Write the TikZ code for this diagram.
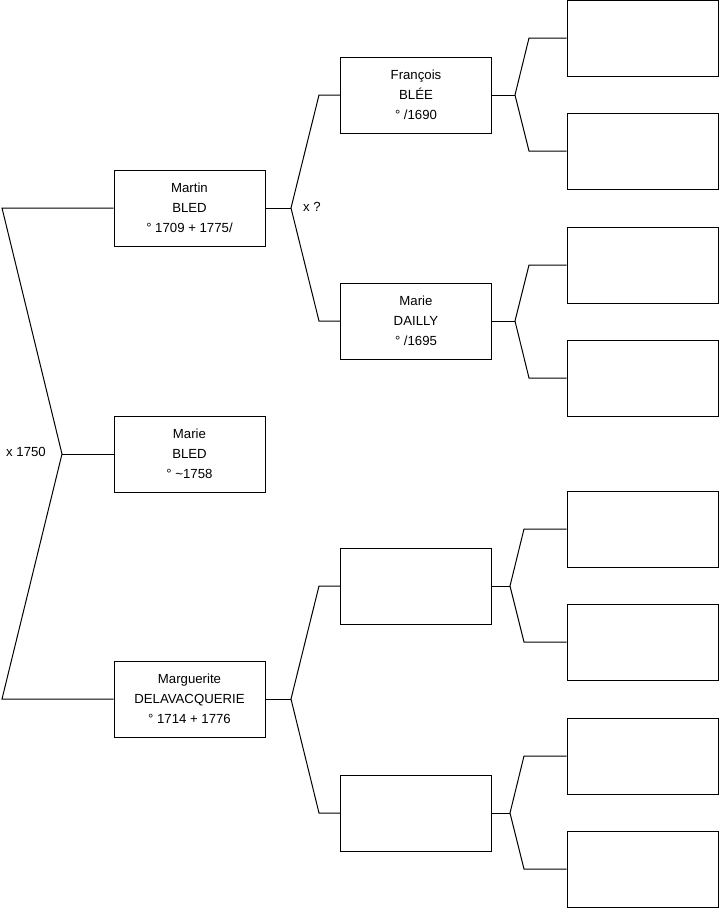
\documentclass[tikz,border=0pt]{standalone}
\usepackage{fontspec}
\setmainfont{Liberation Sans}
\usetikzlibrary{calc}

\begin{document}
\begin{tikzpicture}[x=0.75pt,y=-0.75pt,line width=0.75pt,
    every node/.style={font=\fontsize{9.9}{15}\selectfont},
    person/.style={draw,minimum width=113.25pt,minimum height=57pt,inner sep=0pt,align=center}]
    \useasboundingbox (0,0) rectangle (719,908);
    % generation 1
    \node[person] (martin) at (189.5,208) {Martin\\BLED\\° 1709 + 1775/};
    \node[person] (marie) at (189.5,454) {Marie\\BLED\\° \textasciitilde1758};
    \node[person] (marguerite) at (189.5,699) {Marguerite\\DELAVACQUERIE\\° 1714 + 1776};
    \coordinate (m1) at (62,454);
    \draw (martin.west) -- (2,208) -- (m1) -- (2,699) -- (marguerite.west);
    \draw (m1) -- (marie.west);
    \node at (26,452) {x 1750};
    % generation 2
    \node[person] (francois) at (416,95) {François\\BLÉE\\° /1690};
    \node[person] (dailly) at (416,321) {Marie\\DAILLY\\° /1695};
    \node[person] (p3) at (416,586) {};
    \node[person] (p4) at (416,813) {};
    \coordinate (m2) at (291,208);
    \coordinate (m3) at (291,699);
    \draw (martin.east) -- (m2);
    \draw (francois.west) -- (319,95) -- (m2) -- (319,321) -- (dailly.west);
    \node at (312,207) {x ?};
    \draw (marguerite.east) -- (m3);
    \draw (p3.west) -- (319,586) -- (m3) -- (319,813) -- (p4.west);
    % generation 3
    \foreach \y/\a/\b in {38/g1/g2,265/g3/g4,529/g5/g6,756/g7/g8}{
      \node[person] (\a) at (642.5,\y) {};
      \node[person] (\b) at (642.5,\y+113) {};
    }
    \coordinate (m4) at (515,95);
    \coordinate (m5) at (515,321);
    \coordinate (m6) at (510,586);
    \coordinate (m7) at (510,813);
    \draw (francois.east) -- (m4);
    \draw (g1.west) -- (529,38) -- (m4) -- (529,151) -- (g2.west);
    \draw (dailly.east) -- (m5);
    \draw (g3.west) -- (529,265) -- (m5) -- (529,378) -- (g4.west);
    \draw (p3.east) -- (m6);
    \draw (g5.west) -- (524,529) -- (m6) -- (524,642) -- (g6.west);
    \draw (p4.east) -- (m7);
    \draw (g7.west) -- (524,756) -- (m7) -- (524,869) -- (g8.west);
\end{tikzpicture}
\end{document}
